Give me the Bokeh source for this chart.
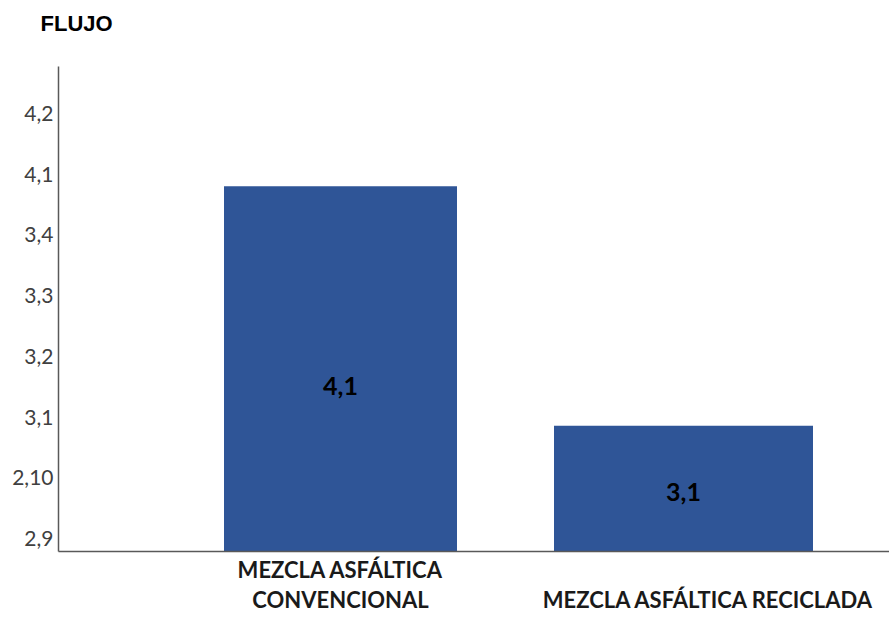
from bokeh.plotting import figure
from bokeh.models import LinearAxis, FixedTicker, Range1d, ColumnDataSource, Title
from bokeh.embed import file_html
from bokeh.resources import INLINE
from bokeh.core.properties import value

# ---- data ----
title_text = "FLUJO"
categories = ["MEZCLA ASFÁLTICA CONVENCIONAL", "MEZCLA ASFÁLTICA RECICLADA"]
cat_line1 = ["MEZCLA ASFÁLTICA", ""]
cat_line2 = ["CONVENCIONAL", "MEZCLA ASFÁLTICA RECICLADA"]
y_tick_labels = ["2,9", "2,10", "3,1", "3,2", "3,3", "3,4", "4,1", "4,2"]
bar_tops = [5.80, 1.86]          # heights read on the (index) y scale
value_labels = ["4,1", "3,1"]

# ---- layout constants ----
Y0 = -0.21
bar_x = [282, 625]
bar_w = [233, 259]
label_y = [2.52, 0.77]
cat1_x = [282]
cat2_x = [282, 650]
BAR = "#2F5597"
AXIS = "#595959"

p = figure(width=889, height=637, output_backend="svg", toolbar_location=None,
           x_range=Range1d(0, 831), y_range=Range1d(Y0, 7.77),
           min_border_left=58, min_border_right=0, min_border_top=66,
           min_border_bottom=86)
p.outline_line_color = None
p.xgrid.visible = False
p.ygrid.visible = False
p.background_fill_color = "white"

src = ColumnDataSource(dict(x=bar_x, top=bar_tops, w=bar_w, ly=label_y,
                            lab=value_labels, cat=categories))
p.vbar(x="x", top="top", bottom=Y0, width="w", source=src,
       fill_color=BAR, line_color=None)
p.text(x="x", y="ly", text="lab", source=src, text_align="center",
       text_baseline="middle", text_font=value("Lato"), text_font_size="25px",
       text_font_style="bold", text_color="black")

# y axis
ya = p.yaxis[0]
ya.ticker = FixedTicker(ticks=list(range(len(y_tick_labels))))
ya.major_label_overrides = {i: t for i, t in enumerate(y_tick_labels)}
ya.major_tick_line_color = None
ya.major_tick_out = 0
ya.major_tick_in = 0
ya.minor_tick_line_color = None
ya.axis_line_color = AXIS
ya.axis_line_width = 1.5
ya.major_label_text_font = "Lato"
ya.major_label_text_font_size = "21px"
ya.major_label_text_color = "#404040"
ya.major_label_standoff = 5

# x axis (first line of category labels + baseline)
xa = p.xaxis[0]
xa.ticker = FixedTicker(ticks=cat1_x)
xa.major_label_overrides = {cat1_x[0]: cat_line1[0]}
xa.major_tick_line_color = None
xa.major_tick_out = 0
xa.major_tick_in = 0
xa.minor_tick_line_color = None
xa.axis_line_color = AXIS
xa.axis_line_width = 1.5
xa.major_label_text_font = "Lato"
xa.major_label_text_font_size = "22px"
xa.major_label_text_font_style = "bold"
xa.major_label_text_color = "#1a1a1a"
xa.major_label_standoff = 4

xb = LinearAxis(ticker=FixedTicker(ticks=cat2_x),
                major_label_overrides={x: t for x, t in zip(cat2_x, cat_line2)})
xb.major_tick_line_color = None
xb.major_tick_out = 0
xb.major_tick_in = 0
xb.minor_tick_line_color = None
xb.axis_line_color = None
xb.major_label_text_font = "Lato"
xb.major_label_text_font_size = "22px"
xb.major_label_text_font_style = "bold"
xb.major_label_text_color = "#1a1a1a"
xb.major_label_standoff = 0
p.add_layout(xb, "below")

# built-in title left empty; blank spacer next to the frame, then the real title
p.title.text = ""
spacer = Title(text=" ", text_font_size="22px", standoff=4, text_color="white")
p.add_layout(spacer, "above")

main_title = Title(text=title_text, align="left", offset=-18, standoff=0,
                   text_font="Liberation Sans", text_font_size="22px",
                   text_font_style="bold", text_color="black")
p.add_layout(main_title, "above")

open("out.html", "w").write(file_html(p, INLINE))
